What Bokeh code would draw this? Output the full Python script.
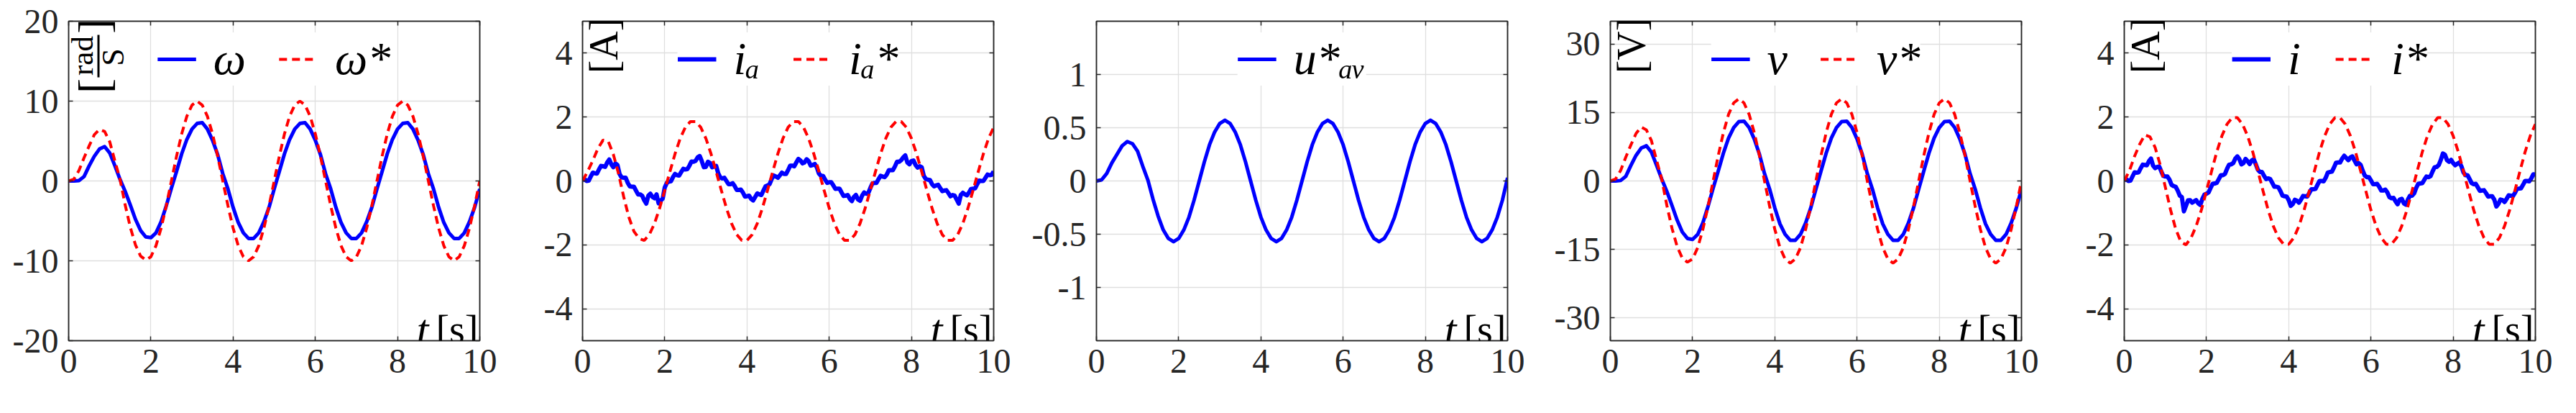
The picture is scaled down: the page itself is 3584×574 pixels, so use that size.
import math
from bokeh.plotting import figure
from bokeh.layouts import row
from bokeh.models import (Legend, LegendItem, Label, LinearAxis, FixedTicker,
                          Range1d, BoxAnnotation, Grid)
from bokeh.embed import file_html
from bokeh.resources import INLINE

# ---------------- data ----------------
t_smooth = [0, 0.125, 0.25, 0.375, 0.5, 0.625, 0.75, 0.875, 1, 1.125,
            1.25, 1.375, 1.5, 1.625, 1.75, 1.875, 2, 2.125, 2.25, 2.375,
            2.5, 2.625, 2.75, 2.875, 3, 3.125, 3.25, 3.375, 3.5, 3.625,
            3.75, 3.875, 4, 4.125, 4.25, 4.375, 4.5, 4.625, 4.75, 4.875,
            5, 5.125, 5.25, 5.375, 5.5, 5.625, 5.75, 5.875, 6, 6.125,
            6.25, 6.375, 6.5, 6.625, 6.75, 6.875, 7, 7.125, 7.25, 7.375,
            7.5, 7.625, 7.75, 7.875, 8, 8.125, 8.25, 8.375, 8.5, 8.625,
            8.75, 8.875, 9, 9.125, 9.25, 9.375, 9.5, 9.625, 9.75, 9.875,
            10]

t_noisy = [0, 0.05, 0.1, 0.15, 0.2, 0.25, 0.3, 0.35, 0.4, 0.45,
           0.5, 0.55, 0.6, 0.65, 0.7, 0.75, 0.8, 0.85, 0.9, 0.95,
           1, 1.05, 1.1, 1.15, 1.2, 1.25, 1.3, 1.35, 1.4, 1.45,
           1.5, 1.55, 1.6, 1.65, 1.7, 1.75, 1.8, 1.85, 1.9, 1.95,
           2, 2.05, 2.1, 2.15, 2.2, 2.25, 2.3, 2.35, 2.4, 2.45,
           2.5, 2.55, 2.6, 2.65, 2.7, 2.75, 2.8, 2.85, 2.9, 2.95,
           3, 3.05, 3.1, 3.15, 3.2, 3.25, 3.3, 3.35, 3.4, 3.45,
           3.5, 3.55, 3.6, 3.65, 3.7, 3.75, 3.8, 3.85, 3.9, 3.95,
           4, 4.05, 4.1, 4.15, 4.2, 4.25, 4.3, 4.35, 4.4, 4.45,
           4.5, 4.55, 4.6, 4.65, 4.7, 4.75, 4.8, 4.85, 4.9, 4.95,
           5, 5.05, 5.1, 5.15, 5.2, 5.25, 5.3, 5.35, 5.4, 5.45,
           5.5, 5.55, 5.6, 5.65, 5.7, 5.75, 5.8, 5.85, 5.9, 5.95,
           6, 6.05, 6.1, 6.15, 6.2, 6.25, 6.3, 6.35, 6.4, 6.45,
           6.5, 6.55, 6.6, 6.65, 6.7, 6.75, 6.8, 6.85, 6.9, 6.95,
           7, 7.05, 7.1, 7.15, 7.2, 7.25, 7.3, 7.35, 7.4, 7.45,
           7.5, 7.55, 7.6, 7.65, 7.7, 7.75, 7.8, 7.85, 7.9, 7.95,
           8, 8.05, 8.1, 8.15, 8.2, 8.25, 8.3, 8.35, 8.4, 8.45,
           8.5, 8.55, 8.6, 8.65, 8.7, 8.75, 8.8, 8.85, 8.9, 8.95,
           9, 9.05, 9.1, 9.15, 9.2, 9.25, 9.3, 9.35, 9.4, 9.45,
           9.5, 9.55, 9.6, 9.65, 9.7, 9.75, 9.8, 9.85, 9.9, 9.95,
           10]

omega_ref = [0.0, 0.2, 1.3, 2.9, 4.4, 5.8, 6.45, 6.2, 4.9, 2.5,
             0.2, -3.0, -5.8, -8.0, -9.4, -9.9, -9.5, -8.1, -5.9, -3.1,
             0.0, 3.1, 5.9, 8.1, 9.5, 10.0, 9.5, 8.1, 5.9, 3.1,
             0.0, -3.1, -5.9, -8.1, -9.5, -10.0, -9.5, -8.1, -5.9, -3.1,
             0.0, 3.1, 5.9, 8.1, 9.5, 10.0, 9.5, 8.1, 5.9, 3.1,
             0.0, -3.1, -5.9, -8.1, -9.5, -10.0, -9.5, -8.1, -5.9, -3.1,
             0.0, 3.1, 5.9, 8.1, 9.5, 10.0, 9.5, 8.1, 5.9, 3.1,
             0.0, -3.1, -5.9, -8.1, -9.5, -10.0, -9.5, -8.1, -5.9, -3.1,
             0.0]

omega = [0.0, 0.0, 0.05, 0.55, 1.9, 3.1, 4.0, 4.3, 3.5, 1.9,
         0.2, -1.3, -3.0, -4.8, -6.2, -7.0, -7.1, -6.5, -5.1, -3.1,
         -0.9, 1.2, 3.4, 5.2, 6.5, 7.2, 7.3, 6.5, 5.1, 3.3,
         0.9, -1.0, -3.3, -5.2, -6.5, -7.2, -7.2, -6.5, -5.1, -3.3,
         -1.0, 1.2, 3.4, 5.2, 6.5, 7.2, 7.3, 6.5, 5.1, 3.3,
         0.9, -1.0, -3.3, -5.2, -6.5, -7.2, -7.2, -6.5, -5.1, -3.3,
         -1.0, 1.2, 3.4, 5.2, 6.5, 7.2, 7.3, 6.5, 5.1, 3.3,
         0.9, -1.0, -3.3, -5.2, -6.5, -7.2, -7.2, -6.5, -5.1, -3.3,
         -1.0]

i_a_ref = [0.0, 0.3, 0.64, 1.02, 1.28, 1.24, 0.83, 0.23, -0.49, -1.13,
           -1.58, -1.80, -1.86, -1.68, -1.33, -0.85, -0.29, 0.29, 0.85, 1.33,
           1.68, 1.86, 1.86, 1.68, 1.33, 0.85, 0.29, -0.29, -0.85, -1.33,
           -1.68, -1.86, -1.86, -1.68, -1.33, -0.85, -0.29, 0.29, 0.85, 1.33,
           1.68, 1.86, 1.86, 1.68, 1.33, 0.85, 0.29, -0.29, -0.85, -1.33,
           -1.68, -1.86, -1.86, -1.68, -1.33, -0.85, -0.29, 0.29, 0.85, 1.33,
           1.68, 1.86, 1.86, 1.68, 1.33, 0.85, 0.29, -0.29, -0.85, -1.33,
           -1.68, -1.86, -1.86, -1.68, -1.33, -0.85, -0.29, 0.29, 0.85, 1.33,
           1.68]

i_a = [0.02, 0.06, 0.00, 0.01, 0.14, 0.26, 0.24, 0.23, 0.36, 0.47,
       0.46, 0.44, 0.58, 0.67, 0.52, 0.43, 0.55, 0.50, 0.22, 0.11,
       0.10, 0.10, -0.06, -0.17, -0.18, -0.18, -0.30, -0.42, -0.42, -0.46,
       -0.60, -0.71, -0.46, -0.40, -0.50, -0.54, -0.42, -0.70, -0.62, -0.55,
       -0.20, -0.06, -0.02, -0.01, 0.12, 0.22, 0.18, 0.17, 0.28, 0.38,
       0.36, 0.37, 0.48, 0.61, 0.60, 0.63, 0.74, 0.78, 0.62, 0.43,
       0.44, 0.60, 0.56, 0.43, 0.46, 0.47, 0.24, 0.11, 0.08, 0.10,
       0.00, -0.10, -0.10, -0.07, -0.16, -0.28, -0.28, -0.27, -0.36, -0.49,
       -0.48, -0.46, -0.56, -0.61, -0.50, -0.39, -0.42, -0.44, -0.30, -0.17,
       -0.14, -0.10, 0.06, 0.17, 0.14, 0.10, 0.18, 0.26, 0.22, 0.22,
       0.34, 0.48, 0.48, 0.46, 0.58, 0.69, 0.64, 0.55, 0.58, 0.68,
       0.62, 0.48, 0.50, 0.53, 0.42, 0.23, 0.16, 0.16, 0.04, -0.06,
       -0.04, -0.04, -0.14, -0.25, -0.24, -0.24, -0.36, -0.47, -0.46, -0.44,
       -0.56, -0.63, -0.50, -0.44, -0.58, -0.62, -0.46, -0.36, -0.40, -0.38,
       -0.22, -0.08, -0.06, -0.06, 0.06, 0.16, 0.14, 0.12, 0.20, 0.34,
       0.34, 0.34, 0.46, 0.60, 0.60, 0.65, 0.74, 0.80, 0.58, 0.52,
       0.62, 0.64, 0.50, 0.42, 0.46, 0.43, 0.16, 0.06, 0.04, 0.03,
       -0.10, -0.17, -0.14, -0.12, -0.22, -0.32, -0.30, -0.29, -0.38, -0.48,
       -0.44, -0.46, -0.58, -0.71, -0.44, -0.37, -0.42, -0.45, -0.36, -0.25,
       -0.24, -0.23, -0.10, 0.01, 0.00, 0.00, 0.10, 0.20, 0.18, 0.19,
       0.30]

u_av_ref = [0.0, 0.01, 0.07, 0.17, 0.25, 0.33, 0.37, 0.35, 0.28, 0.14,
            0.01, -0.17, -0.33, -0.46, -0.54, -0.57, -0.54, -0.46, -0.34, -0.18,
            0.0, 0.18, 0.34, 0.46, 0.54, 0.57, 0.54, 0.46, 0.34, 0.18,
            0.0, -0.18, -0.34, -0.46, -0.54, -0.57, -0.54, -0.46, -0.34, -0.18,
            0.0, 0.18, 0.34, 0.46, 0.54, 0.57, 0.54, 0.46, 0.34, 0.18,
            0.0, -0.18, -0.34, -0.46, -0.54, -0.57, -0.54, -0.46, -0.34, -0.18,
            0.0, 0.18, 0.34, 0.46, 0.54, 0.57, 0.54, 0.46, 0.34, 0.18,
            0.0, -0.18, -0.34, -0.46, -0.54, -0.57, -0.54, -0.46, -0.34, -0.18,
            0.03]

v_ref = [0.0, 0.4, 2.3, 5.2, 7.9, 10.4, 11.8, 11.2, 8.8, 4.5,
         0.4, -5.4, -10.4, -14.4, -16.9, -17.8, -17.1, -14.6, -10.6, -5.6,
         0.0, 5.6, 10.6, 14.6, 17.1, 18.0, 17.1, 14.6, 10.6, 5.6,
         0.0, -5.6, -10.6, -14.6, -17.1, -18.0, -17.1, -14.6, -10.6, -5.6,
         0.0, 5.6, 10.6, 14.6, 17.1, 18.0, 17.1, 14.6, 10.6, 5.6,
         0.0, -5.6, -10.6, -14.6, -17.1, -18.0, -17.1, -14.6, -10.6, -5.6,
         0.0, 5.6, 10.6, 14.6, 17.1, 18.0, 17.1, 14.6, 10.6, 5.6,
         0.0, -5.6, -10.6, -14.6, -17.1, -18.0, -17.1, -14.6, -10.6, -5.6,
         0.0]

v = [0.0, 0.0, 0.1, 1.0, 3.4, 5.6, 7.2, 7.7, 6.3, 3.4,
     0.4, -2.3, -5.4, -8.6, -11.2, -12.6, -12.8, -11.7, -9.2, -5.6,
     -1.6, 2.2, 6.1, 9.4, 11.7, 13.0, 13.1, 11.7, 9.2, 5.9,
     1.6, -1.8, -5.9, -9.4, -11.7, -13.0, -13.0, -11.7, -9.2, -5.9,
     -1.8, 2.2, 6.1, 9.4, 11.7, 13.0, 13.1, 11.7, 9.2, 5.9,
     1.6, -1.8, -5.9, -9.4, -11.7, -13.0, -13.0, -11.7, -9.2, -5.9,
     -1.8, 2.2, 6.1, 9.4, 11.7, 13.0, 13.1, 11.7, 9.2, 5.9,
     1.6, -1.8, -5.9, -9.4, -11.7, -13.0, -13.0, -11.7, -9.2, -5.9,
     -1.8]

i_ref = [0.0, 0.32, 0.77, 1.15, 1.44, 1.38, 1.05, 0.5, -0.2, -0.9,
         -1.5, -1.9, -2.0, -1.78, -1.41, -0.91, -0.31, 0.31, 0.91, 1.41,
         1.78, 1.98, 1.98, 1.78, 1.41, 0.91, 0.31, -0.31, -0.91, -1.41,
         -1.78, -1.98, -1.98, -1.78, -1.41, -0.91, -0.31, 0.31, 0.91, 1.41,
         1.78, 1.98, 1.98, 1.78, 1.41, 0.91, 0.31, -0.31, -0.91, -1.41,
         -1.78, -1.98, -1.98, -1.78, -1.41, -0.91, -0.31, 0.31, 0.91, 1.41,
         1.78, 1.98, 1.98, 1.78, 1.41, 0.91, 0.31, -0.31, -0.91, -1.41,
         -1.78, -1.98, -1.98, -1.78, -1.41, -0.91, -0.31, 0.31, 0.91, 1.41,
         1.78]

i_m = [0.02, 0.06, 0.00, 0.01, 0.14, 0.27, 0.26, 0.27, 0.40, 0.51,
       0.50, 0.49, 0.62, 0.70, 0.48, 0.40, 0.44, 0.45, 0.30, 0.16,
       0.14, 0.14, 0.04, -0.12, -0.16, -0.18, -0.30, -0.46, -0.50, -0.95,
       -0.78, -0.61, -0.60, -0.68, -0.64, -0.60, -0.70, -0.75, -0.56, -0.43,
       -0.40, -0.36, -0.22, -0.09, -0.08, -0.06, 0.06, 0.18, 0.18, 0.22,
       0.38, 0.51, 0.52, 0.56, 0.70, 0.77, 0.68, 0.52, 0.56, 0.69,
       0.62, 0.53, 0.64, 0.68, 0.52, 0.35, 0.28, 0.28, 0.16, 0.06,
       0.08, 0.06, -0.06, -0.18, -0.18, -0.20, -0.32, -0.46, -0.48, -0.49,
       -0.60, -0.78, -0.72, -0.59, -0.62, -0.68, -0.58, -0.47, -0.48, -0.49,
       -0.38, -0.26, -0.26, -0.25, -0.12, 0.00, 0.00, -0.01, 0.10, 0.26,
       0.28, 0.29, 0.42, 0.57, 0.58, 0.58, 0.70, 0.79, 0.72, 0.65,
       0.74, 0.77, 0.64, 0.52, 0.56, 0.50, 0.32, 0.17, 0.12, 0.12,
       0.02, -0.10, -0.10, -0.09, -0.18, -0.30, -0.30, -0.27, -0.36, -0.51,
       -0.54, -0.53, -0.64, -0.73, -0.58, -0.56, -0.70, -0.74, -0.58, -0.46,
       -0.46, -0.39, -0.22, -0.09, -0.08, -0.07, 0.04, 0.14, 0.12, 0.15,
       0.30, 0.43, 0.44, 0.50, 0.66, 0.86, 0.82, 0.65, 0.60, 0.66,
       0.56, 0.49, 0.54, 0.58, 0.46, 0.27, 0.18, 0.18, 0.06, -0.07,
       -0.10, -0.09, -0.20, -0.31, -0.30, -0.29, -0.38, -0.49, -0.48, -0.48,
       -0.58, -0.80, -0.72, -0.58, -0.60, -0.66, -0.56, -0.45, -0.46, -0.48,
       -0.38, -0.25, -0.24, -0.23, -0.12, 0.00, 0.00, -0.01, 0.08, 0.21,
       0.20]

x_ticks = [0, 2, 4, 6, 8, 10]
x_tick_labels = ["0", "2", "4", "6", "8", "10"]

y_ticks_w = [-20, -10, 0, 10, 20]
y_labels_w = ["-20", "-10", "0", "10", "20"]
y_ticks_a = [-4, -2, 0, 2, 4]
y_labels_a = ["-4", "-2", "0", "2", "4"]
y_ticks_u = [-1, -0.5, 0, 0.5, 1]
y_labels_u = ["-1", "-0.5", "0", "0.5", "1"]
y_ticks_v = [-30, -15, 0, 15, 30]
y_labels_v = ["-30", "-15", "0", "15", "30"]

legend_w = ["ω", "ω*"]
legend_a = ["iₐ", "iₐ*"]
legend_u = ["u*ₐᵥ"]
legend_v = ["v", "v*"]
legend_i = ["i", "i*"]

# ---------------- styling ----------------
FW, FH = 572, 444
INK = "#262626"
SERIF = "Liberation Serif"
BLUE = "#0000ff"
RED = "#ff0000"


def fx(off):
    return off / FW * 10.0


def fy(off, ylim):
    return ylim[1] - off / FH * (ylim[1] - ylim[0])


def axis(ticks, labels, shown, standoff):
    overrides = dict(zip(ticks, labels)) if shown else {t: "" for t in ticks}
    return LinearAxis(ticker=FixedTicker(ticks=ticks),
                      major_label_overrides=overrides,
                      major_label_text_font=SERIF,
                      major_label_text_font_size="48px" if shown else "1px",
                      major_label_text_color=INK,
                      major_label_standoff=standoff,
                      axis_line_color=INK, axis_line_width=1.5,
                      major_tick_line_color=INK, major_tick_line_width=1.5,
                      major_tick_in=6, major_tick_out=0,
                      minor_tick_in=0, minor_tick_out=0)


def make_panel(ylim, yticks, ylabels):
    p = figure(frame_width=FW, frame_height=FH,
               x_range=Range1d(0, 10), y_range=Range1d(*ylim),
               x_axis_type=None, y_axis_type=None,
               output_backend="svg", toolbar_location=None,
               min_border_left=95, min_border_right=48,
               min_border_top=29, min_border_bottom=87)
    p.background_fill_color = "white"
    p.border_fill_color = "white"
    p.outline_line_color = INK
    p.outline_line_width = 1.5

    p.add_layout(axis(x_ticks, x_tick_labels, True, 12), "below")
    p.add_layout(axis(yticks, ylabels, True, 14), "left")
    p.add_layout(axis(yticks, ylabels, False, 0), "right")
    p.add_layout(axis(x_ticks, x_tick_labels, False, 0), "above")

    p.add_layout(Grid(dimension=0, ticker=FixedTicker(ticks=x_ticks),
                      grid_line_color="#dfdfdf", grid_line_width=1.3))
    p.add_layout(Grid(dimension=1, ticker=FixedTicker(ticks=yticks),
                      grid_line_color="#dfdfdf", grid_line_width=1.3))

    # "t [s]" inside the frame, bottom right
    p.add_layout(Label(x=fx(FW - 71), y=fy(FH - 16, ylim),
                       text="t", text_font=SERIF, text_font_style="italic",
                       text_font_size="60px", text_align="right",
                       text_baseline="alphabetic", text_color="black"))
    p.add_layout(Label(x=fx(FW - 2), y=fy(FH - 16, ylim),
                       text="[s]", text_font=SERIF, text_font_size="56px",
                       text_align="right", text_baseline="alphabetic",
                       text_color="black"))
    return p


def add_legend(p, items):
    lg = Legend(items=items, location="top_center", orientation="horizontal",
                label_text_font=SERIF, label_text_font_style="italic",
                label_text_font_size="64px", label_text_color="black",
                label_text_baseline="middle", label_height=70,
                glyph_width=54, glyph_height=70, label_standoff=24,
                spacing=46, padding=9, margin=16,
                background_fill_color="white", background_fill_alpha=1.0,
                border_line_color=None)
    p.add_layout(lg)


def add_unit(p, ylim, text):
    p.add_layout(Label(x=fx(29), y=fy(34, ylim), text=text, angle=math.pi / 2,
                       text_font=SERIF, text_font_size="56px",
                       text_align="center", text_baseline="middle",
                       text_color="black"))


panels = []

# ---- panel 1: omega ----
ylim = (-20, 20)
p1 = make_panel(ylim, y_ticks_w, y_labels_w)
b = p1.line(t_smooth, omega, line_color=BLUE, line_width=5, line_join="round")
r = p1.line(t_smooth, omega_ref, line_color=RED, line_width=4, line_dash="11 7")
add_legend(p1, [LegendItem(label=legend_w[0], renderers=[b]),
                LegendItem(label=legend_w[1], renderers=[r])])
for txt, ox, oy, fs in (("[", 35, 90, "62px"), ("]", 35, 7, "62px"),
                        ("rad", 19, 48, "43px"), ("S", 62, 50, "44px")):
    p1.add_layout(Label(x=fx(ox), y=fy(oy, ylim), text=txt, angle=math.pi / 2,
                        text_font=SERIF, text_font_size=fs,
                        text_align="center", text_baseline="middle",
                        text_color="black"))
p1.add_layout(BoxAnnotation(left=fx(40), right=fx(43), top=fy(19, ylim),
                            bottom=fy(78, ylim), fill_color="black",
                            fill_alpha=1.0, line_color=None))
panels.append(p1)

# ---- panel 2: i_a ----
ylim = (-5, 5)
p2 = make_panel(ylim, y_ticks_a, y_labels_a)
b = p2.line(t_noisy, i_a, line_color=BLUE, line_width=6, line_join="round")
r = p2.line(t_smooth, i_a_ref, line_color=RED, line_width=4, line_dash="11 7")
add_legend(p2, [LegendItem(label=legend_a[0], renderers=[b]),
                LegendItem(label=legend_a[1], renderers=[r])])
add_unit(p2, ylim, "[A]")
panels.append(p2)

# ---- panel 3: u_av* ----
ylim = (-1.5, 1.5)
p3 = make_panel(ylim, y_ticks_u, y_labels_u)
b = p3.line(t_smooth, u_av_ref, line_color=BLUE, line_width=5, line_join="round")
add_legend(p3, [LegendItem(label=legend_u[0], renderers=[b])])
panels.append(p3)

# ---- panel 4: v ----
ylim = (-35, 35)
p4 = make_panel(ylim, y_ticks_v, y_labels_v)
b = p4.line(t_smooth, v, line_color=BLUE, line_width=5, line_join="round")
r = p4.line(t_smooth, v_ref, line_color=RED, line_width=4, line_dash="11 7")
add_legend(p4, [LegendItem(label=legend_v[0], renderers=[b]),
                LegendItem(label=legend_v[1], renderers=[r])])
add_unit(p4, ylim, "[V]")
panels.append(p4)

# ---- panel 5: i ----
ylim = (-5, 5)
p5 = make_panel(ylim, y_ticks_a, y_labels_a)
b = p5.line(t_noisy, i_m, line_color=BLUE, line_width=6, line_join="round")
r = p5.line(t_smooth, i_ref, line_color=RED, line_width=4, line_dash="11 7")
add_legend(p5, [LegendItem(label=legend_i[0], renderers=[b]),
                LegendItem(label=legend_i[1], renderers=[r])])
add_unit(p5, ylim, "[A]")
panels.append(p5)

layout = row(*panels, spacing=0)
open("out.html", "w").write(file_html(layout, INLINE))
